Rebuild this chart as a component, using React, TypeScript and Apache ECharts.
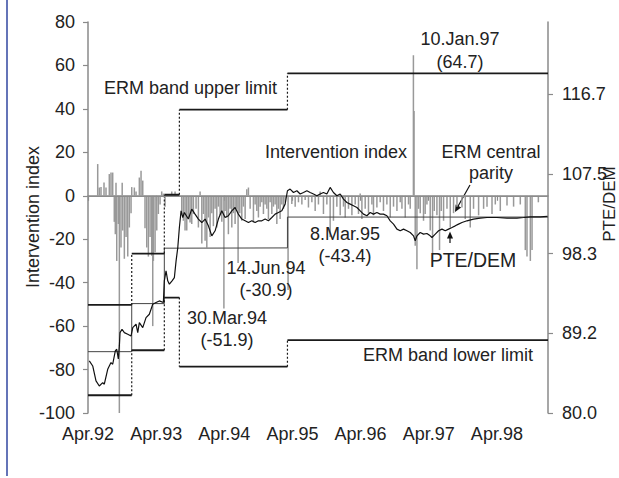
import React, { useEffect, useRef } from "react";
import * as echarts from "echarts";

// Horizontal positions are months elapsed since 1 April 1992.
const yearTicks = [0, 12, 24, 36, 48, 60, 72];
const yearLabels = ["Apr.92", "Apr.93", "Apr.94", "Apr.95", "Apr.96", "Apr.97", "Apr.98"];
const lastMonth = 81;

// Right-hand scale (PTE per 100 DEM)
const rateTicks = [80.0, 89.175, 98.35, 107.525, 116.7];

// ERM regimes: start month of each, with band limits and central parity (PTE/DEM)
const regimeStart = [0, 7.7, 13.44, 16.09, 35.12];
const upperLimit = [92.44, 98.35, 105.12, 114.91, 119.09];
const centralParity = [87.06, 92.59, 98.97, 99.0, 102.55];
const lowerLimit = [82.04, 87.22, 93.28, 85.33, 88.38];

// PTE/DEM exchange rate
const rateMonths = [
  0.23, 0.83, 1.41, 1.99, 2.59, 2.87, 3.47, 4.05, 4.35, 4.81,
  5.06, 5.34, 5.52, 5.64, 5.99, 6.4, 7.0, 7.58, 7.88, 8.46,
  8.76, 9.04, 9.64, 10.22, 10.8, 11.4, 11.98, 12.56, 13.27, 13.44,
  13.74, 14.04, 14.33, 14.8, 15.21, 15.51, 15.81, 16.09, 16.39, 16.69,
  16.97, 17.67, 18.27, 18.85, 19.44, 20.04, 20.62, 21.2, 21.8, 22.38,
  22.96, 23.56, 24.14, 24.72, 25.32, 25.9, 26.48, 27.08, 27.67, 28.25,
  28.85, 29.43, 30.01, 30.61, 31.19, 31.77, 32.37, 32.95, 33.53, 34.13,
  34.71, 35.12, 35.59, 36.18, 36.78, 37.36, 37.94, 38.54, 39.12, 39.7,
  40.3, 40.88, 41.46, 42.06, 42.64, 43.22, 43.82, 44.41, 44.99, 45.59,
  46.17, 46.75, 47.35, 47.93, 48.51, 49.11, 49.69, 50.27, 50.87, 51.45,
  52.03, 52.63, 53.22, 53.8, 54.4, 54.98, 55.56, 56.16, 56.74, 57.32,
  57.62, 57.92, 58.5, 59.08, 59.68, 60.26, 60.56, 61.15, 61.73, 62.33,
  62.91, 63.49, 64.09, 64.67, 65.25, 65.85, 66.73, 67.89, 69.07, 70.26,
  72.02, 73.78, 75.54, 76.71, 77.89, 79.65, 80.9,
];
const rateValues = [
  85.99, 85.41, 83.69, 83.11, 83.49, 83.31, 85.03, 85.8, 85.61, 87.14,
  87.34, 86.22, 87.72, 89.25, 89.64, 89.25, 89.07, 88.87, 89.83, 90.22,
  89.25, 90.4, 89.83, 90.98, 91.37, 92.52, 92.71, 92.9, 92.71, 95.21,
  96.36, 95.21, 94.83, 95.21, 95.59, 97.51, 99.04, 101.35, 103.27, 102.5,
  103.08, 102.32, 103.47, 102.89, 102.32, 101.92, 102.32, 101.54, 100.39, 100.97,
  102.32, 103.27, 102.5, 102.7, 103.27, 103.65, 102.89, 102.32, 102.12, 101.92,
  102.12, 101.92, 102.12, 102.12, 102.32, 102.12, 102.5, 102.89, 103.08, 103.27,
  104.04, 105.58, 105.77, 105.38, 105.58, 105.2, 105.38, 105.58, 105.38, 105.2,
  105.0, 105.2, 105.38, 105.2, 105.96, 105.38, 105.0, 105.2, 104.62, 104.23,
  104.04, 103.85, 103.65, 103.27, 102.89, 102.7, 103.08, 102.89, 103.08, 102.89,
  102.89, 102.7, 102.12, 101.74, 101.16, 100.97, 101.16, 100.97, 100.77, 100.39,
  99.82, 100.39, 100.77, 100.59, 100.66, 100.39, 100.2, 100.59, 100.97, 101.16,
  100.97, 101.16, 101.35, 101.54, 101.74, 101.92, 102.12, 102.32, 102.43, 102.5,
  102.5, 102.43, 102.43, 102.5, 102.58, 102.58, 102.62,
];

// Intervention index
const barMonths = [
  1.71, 1.99, 2.29, 2.82, 3.17, 3.75, 4.05, 4.35, 4.63, 4.81,
  4.93, 5.06, 5.34, 5.52, 5.81, 6.02, 6.11, 6.4, 6.7, 7.0,
  7.28, 7.58, 7.7, 8.16, 8.46, 9.04, 9.34, 9.64, 10.04, 10.34,
  10.63, 10.93, 11.22, 11.4, 11.51, 11.81, 12.11, 12.39, 12.69, 12.98,
  13.27, 13.57, 14.75, 15.33, 16.51, 16.79, 17.09, 17.39, 17.67, 17.97,
  18.27, 18.56, 19.03, 19.44, 19.74, 20.04, 20.32, 20.62, 20.92, 21.2,
  21.5, 21.8, 22.08, 22.38, 22.68, 22.96, 23.26, 23.56, 24.14, 24.44,
  24.72, 25.02, 25.32, 25.6, 25.9, 26.2, 26.73, 27.08, 27.37, 27.67,
  27.96, 28.25, 28.55, 29.13, 29.43, 29.73, 30.01, 30.31, 30.61, 30.89,
  31.19, 31.49, 31.77, 32.07, 32.37, 32.65, 32.95, 33.25, 33.53, 33.83,
  34.13, 34.41, 34.71, 35.89, 36.48, 37.06, 37.66, 38.24, 38.82, 39.42,
  40.0, 40.58, 40.88, 41.46, 42.06, 42.64, 43.22, 43.82, 44.41, 44.99,
  45.29, 45.87, 46.47, 47.05, 47.63, 47.93, 48.23, 48.81, 49.39, 49.99,
  50.27, 50.87, 51.45, 52.03, 52.63, 53.22, 53.8, 54.4, 54.98, 55.28,
  55.86, 56.44, 56.74, 57.41, 57.62, 57.92, 58.2, 58.5, 59.08, 59.37,
  59.68, 60.26, 60.67, 60.97, 61.44, 61.9, 62.2, 62.61, 63.21, 63.79,
  64.37, 64.97, 65.85, 66.43, 67.31, 67.89, 68.78, 69.66, 70.26, 71.14,
  71.72, 72.6, 73.78, 74.94, 76.12, 77.0, 77.3, 77.89, 78.19, 79.3,
];
const barValues = [
  14.6, 3.8, 4, 6.1, 3.8, 10, 10.7, 10.7, -12, -17.7,
  6, -30, -13, -100, -23.8, 6, -16, -29, -19, -28,
  -14.6, -8, 4, 3.8, 2, 8.4, 11.5, 7, -15, -23.8,
  -28, -19, -27.6, -60, -30, -26, -16, -8.4, -4, 2,
  1, -5, 2, 2, -8.4, -11.5, -16, -16, -10, -12.3,
  -13, -8.4, -6, -14.6, 2, -22, -8.4, -20.7, -23.8, -10,
  -19, -8, -14, -6, -14.6, -5, -9, -12, -7, -10,
  -17.7, -6, -14.6, -8, -13, -6, -8, -11.5, -5, -10.7,
  3, 3.8, -6, -12.3, -4, -7, -10, -5, -3, -8.4,
  -4, -6, -10.7, -3, -8.4, -5, -4, -13, -6, -10.7,
  -4, -6, -3, -3.8, -5, -3, -4, -2, -5.4, -3,
  -7, -4, 2, -8.4, -4, -19, -11.5, -5, -9, -5,
  -10, -6, -9, -4, -8.4, 1, -10.7, -6, -8, -4,
  -9, -5.4, -3, -7, -4, -10, -5, -7, -3, -6,
  -10, -4, -6, 39, -23, -33.8, -6, -8, -11.5, -8.4,
  -4, -16, -27, -7, -9, -25, -7, -11.5, -6, -14.6,
  -8, -5, -5.4, -10.7, -14.6, -6, -9, -6, -5, -8.4,
  -4, -7, -4.5, -5, -4, -25, -28, -30, -25, -3,
];

// Notable interventions (dated, with index value)
const highlightDates = ["30.Mar.94", "14.Jun.94", "8.Mar.95", "10.Jan.97"];
const highlightMonths = [23.93, 26.43, 35.23, 57.3];
const highlightValues = [-51.9, -30.9, -43.4, 64.7];

export default function App() {
  const ref = useRef<HTMLDivElement>(null);

  useEffect(() => {
    const el = ref.current;
    if (!el) return;
    const chart = echarts.init(el, undefined, { renderer: "svg" });
    const font = '"Liberation Sans", Arial, sans-serif';
    const ink = "#222";
    const axisGrey = "#8a8a8a";

    const regimeEnd = [...regimeStart.slice(1), lastMonth];
    const flats = (vals: number[]) => {
      const out: any[] = [];
      vals.forEach((v, i) => {
        out.push([regimeStart[i], v], [regimeEnd[i], v], [regimeEnd[i], "-"]);
      });
      return out;
    };
    const jumps = (vals: number[]) => {
      const out: any[] = [];
      for (let i = 1; i < vals.length; i++) {
        out.push([regimeStart[i], vals[i - 1]], [regimeStart[i], vals[i]], [regimeStart[i], "-"]);
      }
      return out;
    };
    const parityData = regimeStart.map((s, i) => [s, centralParity[i]]);
    parityData.push([lastMonth, centralParity[centralParity.length - 1]]);

    const bars: number[][] = barMonths.map((m, i) => [m, barValues[i]]);
    highlightMonths.forEach((m, i) => bars.push([m, highlightValues[i]]));
    bars.sort((a, b) => a[0] - b[0]);

    const rate = rateMonths.map((m, i) => [m, rateValues[i]]);

    const text = (
      t: string,
      x: number,
      y: number,
      align: string = "center",
      size: number = 18,
      rotation: number = 0
    ) => ({
      type: "text",
      x,
      y,
      rotation,
      silent: true,
      z: 10,
      style: {
        text: t,
        fill: ink,
        fontSize: size,
        fontFamily: font,
        align,
        verticalAlign: "middle",
      },
    });

    // label centres (x, first line y, second line y) for the dated interventions
    const highlightPos = [
      [227, 318, 340],
      [266, 268, 290],
      [345, 234, 256],
      [460, 39, 62],
    ];
    const highlightText: any[] = [];
    highlightDates.forEach((d, i) => {
      const [x, y1, y2] = highlightPos[i];
      highlightText.push(text(d, x, y1));
      highlightText.push(text(`(${highlightValues[i].toFixed(1)})`, x, y2));
    });

    const limitStyle = { color: "#1a1a1a", width: 1.8 };
    const jumpStyle = { color: "#1a1a1a", width: 1.2, type: [2, 2] as any };

    chart.setOption({
      animation: false,
      backgroundColor: "#fff",
      grid: { left: 88, right: 71, top: 22, bottom: 65, containLabel: false },
      xAxis: {
        type: "value",
        min: 0,
        max: lastMonth,
        interval: 12,
        axisLine: { show: true, lineStyle: { color: axisGrey, width: 1.5 } },
        axisTick: {
          show: true,
          customValues: yearTicks,
          length: 5,
          lineStyle: { color: axisGrey, width: 1.2 },
        },
        axisLabel: {
          customValues: yearTicks,
          formatter: (v: number) => {
            const k = yearTicks.indexOf(v);
            return k >= 0 ? yearLabels[k] : "";
          },
          margin: 12,
          color: ink,
          fontSize: 18,
          fontFamily: font,
        },
        splitLine: { show: false },
      },
      yAxis: [
        {
          type: "value",
          min: -100,
          max: 80,
          interval: 20,
          position: "left",
          axisLine: { show: true, lineStyle: { color: axisGrey, width: 1.5 } },
          axisTick: { show: true, length: 5, lineStyle: { color: axisGrey, width: 1.2 } },
          axisLabel: { margin: 13, color: ink, fontSize: 18, fontFamily: font },
          splitLine: { show: false },
        },
        {
          type: "value",
          min: 80,
          max: 125,
          position: "right",
          axisLine: { show: true, lineStyle: { color: axisGrey, width: 1.5 } },
          axisTick: {
            show: true,
            customValues: rateTicks,
            length: 5,
            lineStyle: { color: axisGrey, width: 1.2 },
          },
          axisLabel: {
            customValues: rateTicks,
            formatter: (v: number) => v.toFixed(1),
            margin: 14,
            color: ink,
            fontSize: 18,
            fontFamily: font,
          },
          splitLine: { show: false },
        },
      ],
      series: [
        {
          name: "Intervention index",
          type: "bar",
          yAxisIndex: 0,
          data: bars,
          barWidth: 1.5,
          itemStyle: { color: "#999" },
          markLine: {
            silent: true,
            symbol: ["none", "none"],
            label: { show: false },
            lineStyle: { color: "#8c8c8c", width: 1, type: "solid" },
            data: [{ yAxis: 0 }],
          },
        },
        {
          name: "ERM central parity",
          type: "line",
          yAxisIndex: 1,
          step: "end",
          data: parityData,
          symbol: "none",
          lineStyle: { color: "#444", width: 1 },
        },
        {
          name: "ERM band upper limit",
          type: "line",
          yAxisIndex: 1,
          data: flats(upperLimit),
          symbol: "none",
          connectNulls: false,
          lineStyle: limitStyle,
        },
        {
          name: "ERM band lower limit",
          type: "line",
          yAxisIndex: 1,
          data: flats(lowerLimit),
          symbol: "none",
          connectNulls: false,
          lineStyle: limitStyle,
        },
        {
          name: "upper realignments",
          type: "line",
          yAxisIndex: 1,
          data: jumps(upperLimit),
          symbol: "none",
          connectNulls: false,
          lineStyle: jumpStyle,
        },
        {
          name: "lower realignments",
          type: "line",
          yAxisIndex: 1,
          data: jumps(lowerLimit),
          symbol: "none",
          connectNulls: false,
          lineStyle: jumpStyle,
        },
        {
          name: "PTE/DEM",
          type: "line",
          yAxisIndex: 1,
          data: rate,
          symbol: "none",
          lineStyle: { color: "#111", width: 1.2 },
          z: 5,
        },
      ],
      graphic: [
        {
          type: "line",
          silent: true,
          shape: { x1: 7, y1: 0, x2: 7, y2: 476 },
          style: { stroke: "#6474b8", lineWidth: 2 },
        },
        // axis titles
        text("Intervention index", 33, 217, "center", 18, Math.PI / 2),
        text("PTE/DEM", 609, 204, "center", 17, Math.PI / 2),
        // in-chart labels
        text("ERM band upper limit", 104, 88, "left"),
        text("Intervention index", 265, 152, "left"),
        text("ERM central", 491, 152),
        text("parity", 491, 173),
        text("PTE/DEM", 473, 260, "center", 19.5),
        text("ERM band lower limit", 533, 355, "right"),
        ...highlightText,
        {
          type: "line",
          silent: true,
          shape: { x1: 470, y1: 185, x2: 457, y2: 208 },
          style: { stroke: "#111", lineWidth: 1.2 },
        },
        {
          type: "polygon",
          silent: true,
          shape: { points: [[455, 212], [461.2, 207.5], [455.6, 204.4]] },
          style: { fill: "#111" },
        },
        {
          type: "line",
          silent: true,
          shape: { x1: 450, y1: 243, x2: 450, y2: 237 },
          style: { stroke: "#111", lineWidth: 1.2 },
        },
        {
          type: "polygon",
          silent: true,
          shape: { points: [[450, 231.5], [453, 238.5], [447, 238.5]] },
          style: { fill: "#111" },
        },
      ],
    });

    return () => chart.dispose();
  }, []);

  return (
    <div
      ref={ref}
      style={{ position: "absolute", left: 0, top: 0, width: 619, height: 478, background: "#fff" }}
    />
  );
}
